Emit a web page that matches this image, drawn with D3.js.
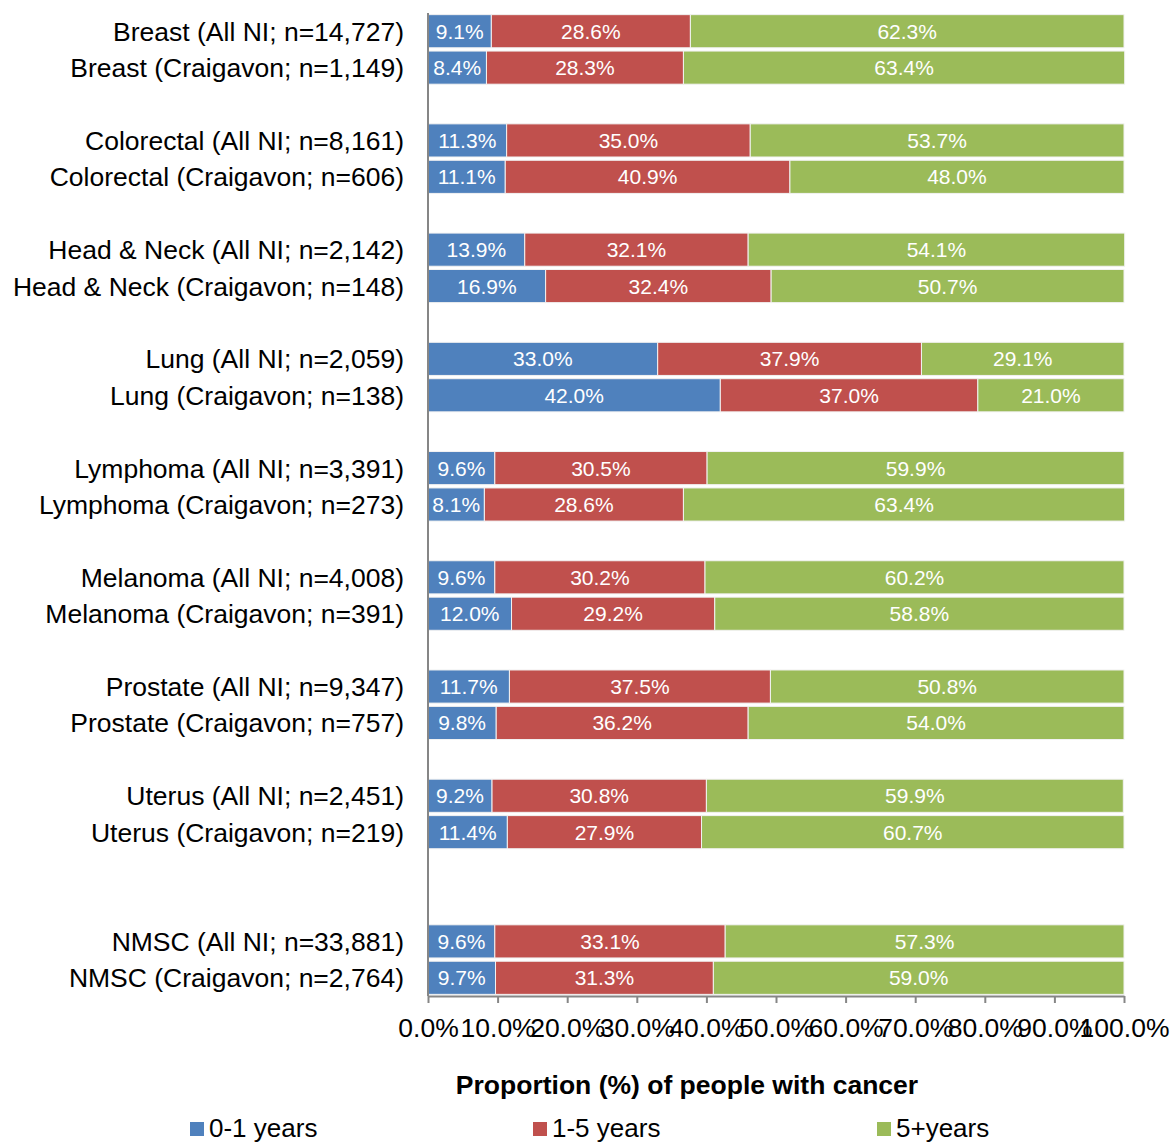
<!DOCTYPE html>
<html>
<head>
<meta charset="utf-8">
<script src="https://cdn.jsdelivr.net/npm/d3@7"></script>
<style>
  body { margin: 0; background: #fff; }
  text { font-family: "Liberation Sans", Arial, sans-serif; }
</style>
</head>
<body>
<div id="chart"></div>
<script>
'use strict';
// rows top to bottom; blank strings are the empty slots between groups
const categories = [
  'Breast (All NI; n=14,727)', 'Breast (Craigavon; n=1,149)', '',
  'Colorectal (All NI; n=8,161)', 'Colorectal (Craigavon; n=606)', ' ',
  'Head & Neck (All NI; n=2,142)', 'Head & Neck (Craigavon; n=148)', '  ',
  'Lung (All NI; n=2,059)', 'Lung (Craigavon; n=138)', '   ',
  'Lymphoma (All NI; n=3,391)', 'Lymphoma (Craigavon; n=273)', '    ',
  'Melanoma (All NI; n=4,008)', 'Melanoma (Craigavon; n=391)', '     ',
  'Prostate (All NI; n=9,347)', 'Prostate (Craigavon; n=757)', '      ',
  'Uterus  (All NI; n=2,451)', 'Uterus (Craigavon; n=219)', '       ', '        ',
  'NMSC (All NI; n=33,881)', 'NMSC (Craigavon; n=2,764)'
];
const years01 = [9.1, 8.4, null, 11.3, 11.1, null, 13.9, 16.9, null, 33.0, 42.0, null,
  9.6, 8.1, null, 9.6, 12.0, null, 11.7, 9.8, null, 9.2, 11.4, null, null, 9.6, 9.7];
const years15 = [28.6, 28.3, null, 35.0, 40.9, null, 32.1, 32.4, null, 37.9, 37.0, null,
  30.5, 28.6, null, 30.2, 29.2, null, 37.5, 36.2, null, 30.8, 27.9, null, null, 33.1, 31.3];
const years5p = [62.3, 63.4, null, 53.7, 48.0, null, 54.1, 50.7, null, 29.1, 21.0, null,
  59.9, 63.4, null, 60.2, 58.8, null, 50.8, 54.0, null, 59.9, 60.7, null, null, 57.3, 59.0];
const seriesNames = ['0-1 years', '1-5 years', '5+years'];
const tickValues = [0, 10, 20, 30, 40, 50, 60, 70, 80, 90, 100];

const colors = ['#4F81BD', '#C0504D', '#9BBB59'];
const width = 1172, height = 1142;
const margin = { left: 428, right: 48, top: 13, bottom: 146 };

const svg = d3.select('#chart').append('svg')
  .attr('width', width).attr('height', height);

const x = d3.scaleLinear().domain([0, 100]).range([margin.left, width - margin.right]);
const y = d3.scaleBand().domain(categories)
  .range([margin.top, height - margin.bottom]).paddingInner(0.09).paddingOuter(0.045);

// stacked rows, skip the blank slots
const rows = categories.map((c, i) => ({ cat: c, v: [years01[i], years15[i], years5p[i]] }))
  .filter(d => d.v[0] !== null);

rows.forEach(r => {
  let start = 0;
  r.v.forEach((val, k) => {
    const g = svg.append('g');
    g.append('rect')
      .attr('x', x(start))
      .attr('y', y(r.cat))
      .attr('width', x(start + val) - x(start))
      .attr('height', y.bandwidth())
      .attr('fill', colors[k])
      .attr('stroke', '#f2f2f2')
      .attr('stroke-width', 1);
    g.append('text')
      .attr('x', (x(start) + x(start + val)) / 2)
      .attr('y', y(r.cat) + y.bandwidth() / 2 + 7.5)
      .attr('text-anchor', 'middle')
      .attr('fill', '#fff')
      .style('font-size', '21px')
      .text(val.toFixed(1) + '%');
    start += val;
  });
});

// category labels
svg.selectAll('.cat').data(rows).enter().append('text')
  .attr('x', margin.left - 24)
  .attr('y', d => y(d.cat) + y.bandwidth() / 2 + 9.5)
  .attr('text-anchor', 'end')
  .style('font-size', '26.5px')
  .attr('fill', '#000')
  .text(d => d.cat);

// vertical axis line
const yBottom = height - margin.bottom;
svg.append('line')
  .attr('x1', margin.left).attr('x2', margin.left)
  .attr('y1', margin.top).attr('y2', yBottom)
  .attr('stroke', '#868686').attr('stroke-width', 2);

// x axis
const xAxis = svg.append('g')
  .attr('transform', 'translate(0,' + yBottom + ')')
  .call(d3.axisBottom(x).tickValues(tickValues).tickSize(7).tickSizeOuter(0)
    .tickFormat(d => d.toFixed(1) + '%'));
xAxis.select('.domain').attr('stroke', '#868686').attr('stroke-width', 2);
xAxis.selectAll('.tick line').attr('stroke', '#868686').attr('stroke-width', 2);
xAxis.selectAll('.tick text')
  .attr('y', 22)
  .attr('fill', '#000')
  .style('font-size', '26.5px')
  .style('font-family', '"Liberation Sans", Arial, sans-serif');

// axis title
svg.append('text')
  .attr('x', 687).attr('y', 1094)
  .attr('text-anchor', 'middle')
  .style('font-size', '26.5px').style('font-weight', 'bold')
  .text('Proportion (%) of people with cancer');

// legend
const legendX = [190, 533, 877];
const legend = svg.selectAll('.legend').data(seriesNames).enter().append('g')
  .attr('transform', (d, i) => 'translate(' + legendX[i] + ',1122)');
legend.append('rect')
  .attr('width', 14).attr('height', 14)
  .attr('fill', (d, i) => colors[i]);
legend.append('text')
  .attr('x', 19).attr('y', 15)
  .style('font-size', '26px')
  .style('font-family', '"Liberation Sans Narrow", "Arial Narrow", "Liberation Sans", sans-serif')
  .text(d => d);
</script>
</body>
</html>
